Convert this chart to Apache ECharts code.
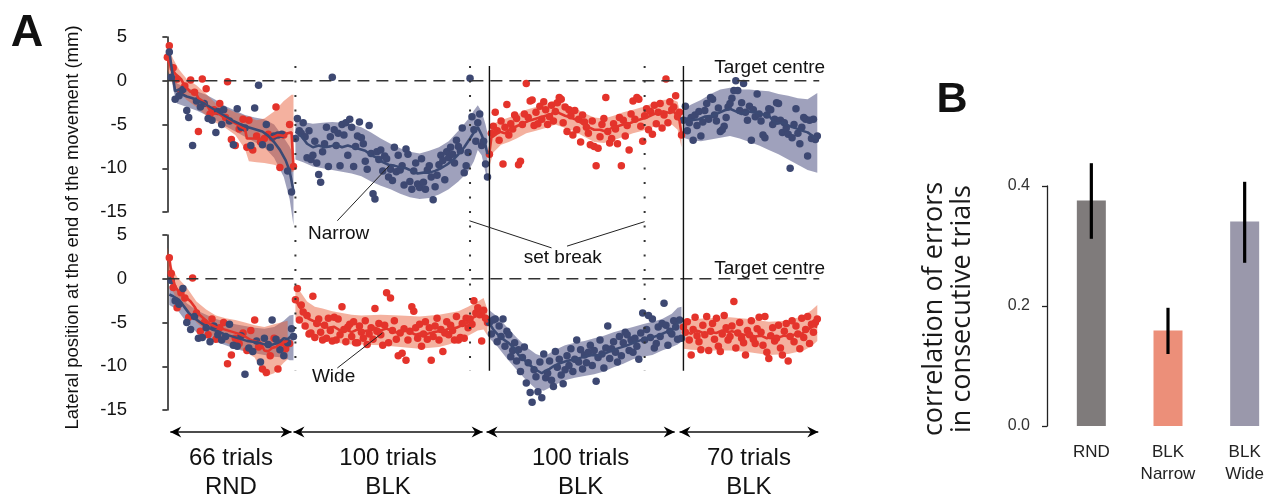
<!DOCTYPE html>
<html><head><meta charset="utf-8">
<script src="https://cdn.jsdelivr.net/npm/echarts@6/dist/echarts.min.js"></script>
<style>html,body{margin:0;padding:0;background:#fff}#c{width:1283px;height:501px}</style>
</head><body><div id="c"></div><script>
// ---------------- DATA ----------------
const yTicksA = [-15, -10, -5, 0, 5];
const segStarts = [0, 66, 166, 266];          // first trial of each block
const setBreaks = [66, 156, 246];               // dotted lines
const blockSwitches = [166, 266];              // solid lines
const segLabels1 = ['66 trials', '100 trials', '100 trials', '70 trials'];
const segLabels2 = ['RND', 'BLK', 'BLK', 'BLK'];

// ---- Top panel (Narrow-first group) ----
const topRndRed = [[1,4.0],[0,2.7],[3,1.5],[5,0.2],[7,-1.2],[9,-0.6],[12,0.1],[14,-1.3],[16,-5.8],[18,0.2],[20,-0.9],[22,-3.8],[24,-3.3],[27,-2.6],[30,-4.2],[31,-0.1],[33,-6.7],[35,-7.4],[37,-5.5],[39,-4.4],[41,-7.6],[42,-4.5],[44,-7.9],[46,-6.3],[48,-7.0],[50,-6.6],[52,-6.1],[54,-6.5],[56,-3.0],[58,-9.9],[60,-6.2],[63,-5.0],[65,-9.8]];
const topRndBlue = [[1,3.3],[2,0.4],[4,-2.1],[6,-1.7],[8,-1.0],[10,-3.4],[11,-4.2],[13,-7.4],[15,-2.3],[17,-3.0],[19,-2.6],[21,-4.3],[23,-4.5],[25,-5.9],[26,-3.5],[28,-5.0],[29,-3.3],[32,-4.6],[34,-7.3],[36,-3.2],[38,-5.3],[40,-5.4],[43,-7.4],[45,-3.1],[47,-0.5],[49,-7.3],[51,-5.0],[53,-7.6],[55,-6.3],[57,-6.2],[59,-6.1],[62,-10.3],[64,-12.7]];
const topS2Blue = [-6.6,-4.3,-5.7,-6.0,-4.8,-6.4,-8.8,-5.7,-9.0,-8.5,
 -6.9,-9.4,-10.7,-11.6,-8.1,-7.2,-5.3,-9.8,-6.4,0.4,
 -5.6,-7.4,-6.0,-9.7,-5.0,-6.2,-4.8,-8.5,-4.4,-5.3,
 -9.8,-7.5,-6.3,-4.7,-6.5,-7.2,-9.2,-10.1,-5.1,-8.3,
 -12.9,-13.5,-8.1,-9.0,-7.9,-10.3,-8.6,-8.9,-11.0,-10.1,
 -11.4,-7.6,-10.4,-8.5,-10.2,-9.7,-11.9,-7.8,-8.4,-11.5,
 -12.4,-10.3,-9.4,-11.8,-12.2,-8.9,-11.6,-12.4,-10.2,-9.7,
 -11.0,-13.6,-12.1,-10.8,-9.6,-8.5,-9.1,-11.3,-8.1,-8.8,
 -7.6,-8.4,-9.4,-6.8,-7.5,-8.0,-5.4,-10.5,-9.7,-8.2,
 0.3,-4.1,-5.6,-6.9,-4.8,-3.8,-7.4,-6.9,-9.5,-11.0];
const topS3Red = [-8.4,-6.0,-5.2,-3.6,-5.7,-6.8,-4.6,-9.5,-5.3,-2.7,
 -6.2,-4.9,-5.5,-3.9,-4.3,-9.6,-9.2,-5.0,-3.8,-0.3,
 -4.2,-2.3,-2.2,-5.1,-3.6,-4.9,-2.9,-4.4,-2.4,-3.3,
 -5.0,-4.1,-2.8,-4.6,-3.5,-2.5,-1.9,-2.1,-4.8,-3.0,
 -5.8,-3.3,-4.0,-6.2,-3.4,-5.6,-4.4,-7.0,-3.9,-4.7,
 -5.3,-6.0,-7.3,-4.6,-7.5,-9.7,-7.7,-6.4,-5.0,-4.3,
 -1.9,-5.8,-7.1,-6.6,-4.9,-5.5,-7.2,-4.2,-9.7,-4.5,
 -6.3,-5.1,-7.9,-3.8,-2.3,-4.4,-1.9,-2.1,-5.2,-6.9,
 -4.0,-3.2,-5.6,-3.5,-6.1,-2.8,-4.9,-3.6,-2.6,-5.4,
 -3.9,0.2,-4.8,-2.4,-3.3,-3.0,-1.7,-4.1,-3.6,-6.2];
const topS4Blue = [-4.5,-2.9,-5.7,-4.8,-4.2,-6.8,-3.9,-5.1,-3.5,-6.3,
 -4.7,-3.4,-2.6,-4.4,-1.9,-2.1,-3.9,-4.6,-3.1,-5.8,
 -5.6,-5.2,-4.2,-3.0,-2.6,-2.0,-1.1,0.0,-1.1,-3.4,
 -2.5,-0.3,-3.6,-4.5,-2.9,-6.8,-3.3,-4.1,-1.5,-3.8,
 -4.6,-6.2,-6.5,-3.9,-3.2,-3.3,-5.0,-4.4,-2.5,-2.6,
 -4.5,-5.9,-4.8,-5.4,-6.1,-10.0,-6.5,-5.0,-3.2,-6.0,
 -7.2,-5.3,-4.2,-4.4,-8.6,-4.5,-6.6,-4.4,-6.7,-6.3];

const topRndBlueLine = [[1,3.3],[3,0.3],[4,-1.2],[6,-1.0],[8,-1.6],[10,-1.8],[13,-2.0],[16,-2.3],[19,-2.6],[22,-3.0],[25,-3.4],[28,-3.8],[31,-4.2],[34,-4.6],[37,-4.9],[40,-5.2],[43,-5.4],[46,-5.6],[49,-5.8],[52,-6.3],[55,-7.0],[58,-7.9],[61,-9.1],[63,-10.3],[65,-12.6]];
const topRndRedLine = [[0,2.5],[2,1.5],[4,0.8],[7,0.2],[9,-0.6],[12,-1.3],[14,-1.1],[16,-2.0],[18,-2.3],[21,-3.0],[23,-3.8],[26,-3.7],[28,-4.0],[30,-4.2],[33,-4.6],[36,-5.0],[38,-5.3],[40,-5.5],[41,-6.6],[44,-6.6],[47,-6.6],[50,-6.7],[52,-6.3],[54,-6.5],[57,-6.2],[60,-6.3],[62,-6.0],[64,-5.9],[65,-9.9]];
const topS2Line = [[66,-5.8],[68,-6.1],[70,-6.6],[72,-7.2],[75,-7.6],[78,-7.4],[81,-7.6],[84,-7.5],[87,-7.3],[90,-7.6],[93,-7.4],[96,-7.6],[99,-7.8],[102,-8.0],[105,-8.5],[108,-8.8],[111,-9.3],[114,-9.6],[117,-9.7],[120,-9.9],[123,-10.0],[126,-10.3],[129,-10.6],[132,-10.5],[135,-10.5],[138,-10.3],[141,-10.0],[144,-9.6],[147,-9.1],[150,-8.4],[153,-7.6],[156,-6.6],[158,-5.9],[160,-5.3],[162,-6.2],[164,-7.4],[165,-8.4]];
const topS3Line = [[166,-8.2],[167,-6.5],[169,-6.2],[171,-5.8],[174,-6.0],[177,-5.5],[180,-5.2],[183,-4.9],[186,-4.6],[189,-4.4],[192,-4.2],[195,-4.0],[198,-3.8],[200,-3.4],[202,-3.7],[205,-4.0],[208,-4.2],[211,-4.5],[214,-4.9],[217,-5.3],[220,-5.6],[223,-5.6],[226,-5.8],[229,-5.4],[232,-5.2],[235,-5.0],[238,-4.9],[241,-4.6],[244,-4.4],[247,-4.2],[250,-3.9],[253,-3.6],[256,-3.5],[259,-3.7],[261,-3.5],[263,-4.1],[264,-4.6],[265,-6.1]];
const topS4Line = [[266,-4.6],[268,-4.3],[270,-4.5],[274,-4.4],[277,-4.1],[281,-4.0],[284,-3.7],[287,-3.4],[290,-3.2],[293,-3.5],[296,-3.8],[299,-3.5],[303,-3.6],[306,-3.8],[310,-4.0],[312,-4.5],[314,-4.9],[317,-4.8],[320,-5.1],[322,-5.3],[325,-5.5],[327,-5.7],[330,-5.9],[332,-6.2],[334,-6.6],[335,-6.5]];

// bands: [trial, lower, upper]
const topRndRedBand = [[0,1.3,4.0],[3,-0.5,2.5],[6,-1.2,1.3],[10,-2.2,0.2],[15,-3.0,-0.5],[20,-4.0,-1.5],[25,-4.8,-2.6],[30,-5.4,-3.1],[35,-6.2,-3.6],[40,-7.8,-4.0],[42,-9.2,-4.2],[46,-9.3,-4.5],[50,-9.4,-4.3],[55,-9.6,-3.5],[60,-10.0,-2.3],[64,-10.4,-1.6],[65,-10.4,-1.6]];
const topRndBlueBand = [[1,2.0,4.0],[3,-1.0,1.2],[5,-2.6,-0.3],[10,-3.0,-0.8],[15,-3.4,-1.2],[20,-3.9,-1.6],[25,-4.5,-2.2],[30,-5.2,-2.9],[35,-5.8,-3.4],[40,-6.4,-3.9],[45,-7.0,-4.2],[50,-7.6,-4.4],[55,-8.8,-5.0],[60,-11.0,-6.5],[63,-13.5,-7.5],[65,-16.5,-8.5]];
const topS2Band = [[66,-9.0,-4.4],[70,-9.3,-4.7],[75,-9.8,-4.9],[80,-10.0,-4.8],[85,-10.2,-4.7],[90,-10.4,-4.8],[95,-10.6,-5.0],[100,-10.9,-5.3],[105,-11.5,-5.9],[110,-12.0,-6.6],[115,-12.4,-7.2],[120,-12.9,-7.7],[125,-13.3,-8.1],[130,-13.5,-8.3],[135,-13.4,-8.0],[140,-13.0,-7.6],[145,-12.4,-6.9],[150,-11.5,-5.7],[155,-10.4,-4.4],[158,-9.2,-3.4],[160,-7.9,-2.8],[162,-8.5,-3.5],[164,-10.5,-5.0],[165,-11.5,-6.0]];
const topS3Band = [[166,-9.8,-6.4],[168,-8.2,-4.9],[172,-7.3,-4.5],[176,-7.0,-4.2],[180,-6.6,-3.9],[185,-6.0,-3.3],[190,-5.7,-3.0],[195,-5.4,-2.7],[200,-5.0,-2.2],[205,-5.4,-2.7],[210,-5.8,-3.1],[215,-6.4,-3.7],[220,-7.0,-4.2],[225,-7.1,-4.3],[230,-6.8,-4.0],[235,-6.4,-3.6],[240,-6.0,-3.3],[245,-5.7,-3.0],[250,-5.3,-2.6],[255,-5.0,-2.2],[260,-5.0,-2.1],[263,-5.6,-2.4],[265,-7.6,-4.4]];
const topS4Band = [[266,-6.5,-3.2],[270,-6.8,-2.7],[275,-6.9,-2.2],[280,-6.7,-1.5],[285,-6.5,-1.0],[290,-6.3,-0.8],[295,-6.6,-1.0],[300,-7.0,-1.0],[305,-7.4,-1.1],[310,-7.9,-1.2],[315,-8.4,-1.5],[320,-9.0,-1.7],[325,-9.6,-2.0],[330,-10.2,-2.1],[335,-10.5,-1.4]];

// ---- Bottom panel (Wide-first group) ----
const botRndRed = [[1,2.4],[2,0.6],[3,-1.0],[5,-3.3],[7,-1.6],[9,-2.2],[11,-4.4],[13,0.1],[15,-3.9],[17,-6.0],[19,-5.0],[21,-6.4],[23,-4.6],[25,-6.9],[27,-5.6],[29,-5.0],[31,-9.7],[33,-8.7],[35,-6.8],[37,-7.4],[39,-6.2],[41,-8.2],[43,-5.9],[45,-4.7],[47,-7.8],[49,-10.3],[51,-10.7],[53,-8.8],[55,-6.8],[57,-10.3],[59,-7.3],[61,-8.0],[63,-7.4]];
const botRndBlue = [[2,-0.2],[4,-2.5],[6,-2.9],[8,-1.1],[10,-5.0],[12,-5.8],[14,-4.3],[16,-6.8],[18,-6.7],[20,-5.6],[22,-7.2],[24,-5.4],[26,-6.4],[28,-7.0],[30,-6.6],[32,-5.2],[34,-7.6],[36,-7.7],[38,-6.5],[40,-10.9],[42,-7.9],[44,-8.3],[46,-7.1],[48,-9.5],[50,-6.8],[52,-7.5],[54,-4.7],[56,-6.9],[58,-8.1],[60,-8.8],[62,-7.3],[64,-5.7],[65,-6.6]];
const botS2Red = [-2.4,-1.1,-4.7,-3.0,-3.8,-5.4,-4.2,-6.3,-6.2,-2.0,
 -6.7,-5.1,-4.6,-6.1,-7.0,-5.3,-6.8,-4.5,-5.9,-7.1,
 -4.4,-7.0,-4.6,-6.4,-3.2,-5.8,-7.2,-5.5,-5.2,-6.6,
 -4.9,-7.3,-7.3,-5.4,-6.1,-6.8,-4.8,-7.5,-6.3,-5.6,
 -6.9,-3.4,-6.0,-5.1,-6.4,-7.6,-5.3,-1.6,-7.3,-2.2,
 -5.9,-4.8,-6.9,-8.8,-6.2,-8.5,-5.7,-9.3,-7.0,-6.0,
 -3.2,-3.7,-5.6,-6.8,-5.2,-7.7,-6.3,-4.9,-6.9,-5.6,
 -9.3,-6.6,-5.4,-4.5,-7.0,-5.8,-8.3,-6.2,-4.9,-6.4,
 -5.3,-5.9,-7.0,-4.3,-7.0,-6.7,-5.1,-6.8,-4.5,-5.6,
 -4.6,-5.2,-2.5,-3.9,-3.3,-4.1,-7.1,-3.6,-4.5,-5.0];
const botS3Blue = [-5.0,-6.3,-4.7,-4.6,-7.2,-5.4,-6.6,-4.6,-7.7,-6.0,
 -6.4,-8.9,-8.2,-7.3,-9.4,-8.1,-10.6,-9.0,-7.8,-11.9,
 -9.6,-13.0,-14.1,-10.4,-11.2,-12.9,-9.5,-13.6,-8.6,-11.3,
 -10.8,-9.4,-11.6,-12.3,-8.3,-10.1,-9.2,-11.0,-12.0,-10.4,
 -8.8,-9.9,-8.0,-10.6,-9.2,-7.0,-9.5,-8.1,-10.3,-8.7,
 -9.6,-8.4,-7.6,-9.9,-8.2,-11.7,-9.0,-7.0,-8.6,-10.2,
 -7.9,-5.4,-9.1,-8.0,-7.2,-8.4,-9.5,-6.6,-8.8,-7.3,
 -6.1,-6.4,-8.2,-7.0,-8.4,-6.8,-7.7,-9.2,-6.2,-3.9,
 -7.0,-5.8,-4.2,-6.7,-4.6,-7.9,-7.4,-5.5,-6.6,-5.1,
 -2.8,-5.3,-7.6,-6.0,-6.3,-4.8,-5.5,-6.9,-4.7,-6.8];
const botS4Red = [-5.5,-6.1,-4.9,-7.0,-8.7,-5.8,-4.4,-6.5,-7.2,-8.1,
 -5.3,-6.4,-4.3,-8.2,-6.0,-5.1,-6.9,-4.5,-7.7,-8.3,
 -6.3,-4.2,-5.6,-7.0,-6.6,-5.4,-2.6,-7.9,-6.2,-5.0,
 -6.8,-7.3,-8.7,-5.9,-6.4,-4.8,-6.9,-7.4,-5.7,-4.4,
 -6.1,-7.6,-4.3,-8.4,-9.1,-6.5,-5.6,-7.1,-6.8,-5.3,
 -7.9,-8.7,-6.0,-5.1,-9.4,-6.6,-4.8,-7.2,-5.4,-6.3,
 -8.0,-4.5,-6.7,-5.8,-4.3,-7.4,-5.2,-6.1,-5.0,-4.6];

const botRndRedLine = [[1,2.4],[2,0.7],[4,-0.9],[7,-1.8],[9,-2.0],[12,-2.6],[14,-3.2],[16,-4.0],[19,-4.6],[22,-5.2],[25,-5.5],[28,-5.7],[31,-5.9],[34,-6.1],[37,-6.3],[40,-6.6],[43,-7.0],[46,-7.2],[48,-7.3],[50,-8.2],[52,-8.3],[54,-7.9],[56,-7.8],[58,-7.4],[61,-7.2],[62,-7.0]];
const botRndBlueLine = [[1,-1.8],[3,-2.0],[6,-2.4],[9,-3.3],[11,-3.9],[14,-4.5],[17,-5.0],[20,-5.4],[23,-5.8],[26,-6.0],[29,-6.3],[32,-6.5],[35,-6.7],[38,-6.9],[41,-7.1],[44,-7.2],[47,-7.3],[50,-7.5],[53,-7.6],[56,-7.4],[58,-7.2],[60,-6.8],[62,-6.9],[64,-6.5],[65,-6.3]];
const botS2Line = [[66,-2.4],[67,-2.6],[69,-3.5],[71,-4.3],[73,-4.6],[75,-4.8],[78,-5.0],[80,-5.4],[83,-5.6],[86,-5.5],[89,-5.9],[92,-5.8],[95,-6.1],[98,-5.8],[101,-6.0],[104,-5.9],[107,-5.6],[110,-5.9],[113,-5.7],[116,-6.0],[119,-6.2],[122,-5.9],[125,-6.1],[128,-6.4],[131,-6.2],[134,-6.3],[137,-6.1],[140,-6.0],[143,-5.9],[146,-5.6],[149,-5.6],[152,-5.3],[155,-5.0],[157,-4.5],[159,-4.3],[161,-3.8],[162,-3.5],[164,-4.5],[165,-5.0]];
const botS3Line = [[166,-5.1],[168,-5.8],[170,-6.3],[173,-6.9],[176,-7.35],[179,-8.0],[181,-8.7],[184,-9.3],[187,-9.9],[190,-10.4],[193,-10.8],[195,-10.5],[197,-10.3],[199,-10.0],[202,-9.7],[205,-9.45],[208,-9.3],[212,-9.1],[215,-8.9],[219,-8.7],[222,-8.8],[226,-8.5],[229,-8.2],[233,-7.9],[236,-7.7],[240,-7.35],[243,-7.1],[247,-6.8],[250,-6.7],[254,-6.4],[257,-6.1],[260,-5.85],[262,-5.4],[264,-4.7],[265,-5.0]];
const botS4Line = [[266,-6.4],[268,-6.1],[270,-6.3],[272,-5.9],[274,-6.0],[277,-6.3],[280,-6.1],[283,-6.2],[286,-5.9],[289,-6.1],[291,-6.0],[294,-6.2],[297,-6.4],[300,-6.4],[303,-6.6],[306,-6.5],[309,-6.8],[312,-6.6],[315,-6.7],[318,-6.5],[321,-6.6],[324,-6.3],[326,-6.4],[329,-6.0],[331,-5.7],[333,-5.4],[335,-5.5]];

const botRndRedBand = [[0,0.8,3.6],[2,-1.0,1.5],[5,-2.5,0.2],[10,-3.4,-1.0],[15,-5.0,-2.6],[20,-6.0,-3.5],[25,-6.8,-4.2],[30,-7.3,-4.5],[35,-7.7,-4.7],[40,-8.3,-5.0],[45,-9.0,-5.3],[50,-11.2,-5.5],[55,-10.8,-5.2],[60,-9.6,-4.9],[62,-9.2,-4.8]];
const botRndBlueBand = [[1,-3.0,-0.8],[5,-3.5,-1.2],[10,-5.0,-2.8],[15,-6.1,-3.6],[20,-6.8,-4.1],[25,-7.2,-4.6],[30,-7.6,-4.9],[35,-8.0,-5.2],[40,-8.3,-5.4],[45,-8.5,-5.6],[50,-8.7,-5.7],[55,-8.9,-5.5],[60,-9.0,-4.8],[63,-9.3,-4.2],[65,-9.3,-4.1]];
const botS2Band = [[66,-4.5,-0.5],[68,-4.8,-1.3],[72,-6.0,-2.6],[76,-6.6,-3.2],[80,-6.9,-3.4],[85,-7.2,-3.7],[90,-7.4,-3.9],[95,-7.5,-4.1],[100,-7.5,-4.2],[110,-7.6,-4.1],[120,-7.8,-4.2],[130,-8.0,-4.3],[140,-7.8,-4.1],[145,-7.5,-3.9],[150,-7.1,-3.7],[155,-6.5,-3.2],[160,-5.9,-2.6],[163,-5.8,-2.2],[165,-6.5,-3.5]];
const botS3Band = [[166,-6.8,-3.6],[170,-7.7,-4.3],[175,-9.1,-5.5],[180,-10.4,-6.7],[185,-11.6,-7.8],[190,-12.6,-8.6],[194,-12.8,-8.9],[200,-12.1,-8.1],[205,-11.6,-7.6],[210,-11.3,-7.3],[215,-11.1,-7.1],[220,-10.9,-6.8],[225,-10.6,-6.5],[230,-10.1,-6.1],[235,-9.7,-5.8],[240,-9.2,-5.5],[245,-8.9,-5.2],[250,-8.7,-4.9],[255,-8.2,-4.6],[260,-7.8,-4.0],[263,-7.5,-3.3],[265,-7.2,-3.2]];
const botS4Band = [[266,-8.0,-4.8],[270,-8.1,-4.6],[280,-8.2,-4.5],[290,-8.2,-4.4],[300,-8.4,-4.6],[310,-8.7,-4.9],[320,-8.6,-4.8],[328,-8.2,-4.2],[332,-7.7,-3.6],[335,-7.1,-3.0]];

// ---- Panel B ----
const bCategories = ['RND', 'BLK\nNarrow', 'BLK\nWide'];
const bValues = [0.376, 0.159, 0.341];
const bErrLow = [0.312, 0.120, 0.272];
const bErrHigh = [0.438, 0.197, 0.407];
const bTicks = [0.0, 0.2, 0.4];

// ---------------- STYLE ----------------
const RED = '#e4332b', BLUE = '#3d4872';
const RED_LINE = '#e3352c', BLUE_LINE = '#3b4a74';
const RED_BAND = 'rgba(231,91,55,0.48)', BLUE_BAND = 'rgba(71,75,126,0.52)';
const BAR_COLORS = ['#7f7b7b', '#ec8f79', '#9a98ab'];
const FONT = 'Liberation Sans, Arial, sans-serif';

const chart = echarts.init(document.getElementById('c'), null, {renderer: 'canvas'});

const withTrials = (start, vals) => vals.map((v, i) => [start + i, v]);

function band(data, color, g) {
  return {type: 'custom', xAxisIndex: g, yAxisIndex: g, clip: false, silent: true, z: 1,
    data: [[data[0][0], data[0][1]]],
    renderItem: (p, api) => {
      const up = data.map(b => api.coord([b[0], b[2]]));
      const lo = data.slice().reverse().map(b => api.coord([b[0], b[1]]));
      return {type: 'polygon', shape: {points: up.concat(lo)}, style: {fill: color}};
    }};
}
function dots(data, color, g) {
  return {type: 'scatter', xAxisIndex: g, yAxisIndex: g, data, symbolSize: 7.5, z: 3, silent: true,
    itemStyle: {color, opacity: 1}};
}
function mline(data, color, g) {
  return {type: 'line', xAxisIndex: g, yAxisIndex: g, data, showSymbol: false, z: 4, silent: true,
    lineStyle: {color, width: 2.6}, itemStyle: {color}};
}

const yAxisA = (g) => ({gridIndex: g, type: 'value', min: -15, max: 5, interval: 5,
  axisLine: {show: true, lineStyle: {color: '#1a1a1a', width: 1.5}},
  axisTick: {show: true, length: 5, lineStyle: {color: '#1a1a1a', width: 1.5}},
  axisLabel: {fontSize: 18.5, color: '#111', margin: 20, fontFamily: FONT,
    customValues: yTicksA},
  splitLine: {show: false}});
const xAxisA = (g) => ({gridIndex: g, type: 'value', min: -10.5, max: 340, show: false});

const option = {
  backgroundColor: '#ffffff',
  animation: false,
  grid: [
    {left: 147, top: 37, width: 680, height: 175},
    {left: 147, top: 235, width: 680, height: 175},
    {left: 1053, top: 186, width: 243, height: 240}
  ],
  xAxis: [xAxisA(0), xAxisA(1),
    {gridIndex: 2, type: 'category', data: bCategories,
      axisLine: {show: false}, axisTick: {show: false},
      axisLabel: {fontSize: 17, lineHeight: 22, color: '#222', margin: 15, fontFamily: FONT}}],
  yAxis: [yAxisA(0), yAxisA(1),
    {gridIndex: 2, type: 'value', min: 0, max: 0.4, interval: 0.2, offset: 6,
      axisLine: {show: true, lineStyle: {color: '#222', width: 1.3}},
      axisTick: {show: true, length: 5, lineStyle: {color: '#222', width: 1.3}},
      axisLabel: {fontSize: 16, color: '#333', margin: 17, fontFamily: FONT, formatter: v => v.toFixed(1)},
      splitLine: {show: false}}],
  series: [
    band(topRndBlueBand, BLUE_BAND, 0), band(topRndRedBand, RED_BAND, 0),
    band(topS2Band, BLUE_BAND, 0), band(topS3Band, RED_BAND, 0), band(topS4Band, BLUE_BAND, 0),
    band(botRndBlueBand, BLUE_BAND, 1), band(botRndRedBand, RED_BAND, 1),
    band(botS2Band, RED_BAND, 1), band(botS3Band, BLUE_BAND, 1), band(botS4Band, RED_BAND, 1),
    dots(topRndRed.concat(withTrials(segStarts[2], topS3Red)), RED, 0),
    dots(topRndBlue.concat(withTrials(segStarts[1], topS2Blue), withTrials(segStarts[3], topS4Blue)), BLUE, 0),
    dots(botRndRed.concat(withTrials(segStarts[1], botS2Red), withTrials(segStarts[3], botS4Red)), RED, 1),
    dots(botRndBlue.concat(withTrials(segStarts[2], botS3Blue)), BLUE, 1),
    mline(topRndRedLine, RED_LINE, 0), mline(topRndBlueLine, BLUE_LINE, 0),
    mline(topS2Line, BLUE_LINE, 0), mline(topS3Line, RED_LINE, 0), mline(topS4Line, BLUE_LINE, 0),
    mline(botRndRedLine, RED_LINE, 1), mline(botRndBlueLine, BLUE_LINE, 1),
    mline(botS2Line, RED_LINE, 1), mline(botS3Line, BLUE_LINE, 1), mline(botS4Line, RED_LINE, 1),
    {type: 'bar', xAxisIndex: 2, yAxisIndex: 2, barWidth: 29, silent: true,
      data: bValues.map((v, i) => ({value: v, itemStyle: {color: BAR_COLORS[i]}}))},
    {type: 'custom', xAxisIndex: 2, yAxisIndex: 2, silent: true, z: 5,
      data: bValues.map((v, i) => [i, bErrLow[i], bErrHigh[i]]),
      renderItem: (p, api) => {
        const a = api.coord([api.value(0), api.value(1)]);
        const b = api.coord([api.value(0), api.value(2)]);
        return {type: 'line', shape: {x1: a[0], y1: a[1], x2: b[0], y2: b[1]},
          style: {stroke: '#000', lineWidth: 3.2}};
      }}
  ]
};
chart.setOption(option);

// ---------------- ANNOTATIONS (positioned through the axes) ----------------
const P = (g, x, y) => chart.convertToPixel({gridIndex: g}, [x, y]);
const g = [];
const ln = (a, b, style) => g.push({type: 'line', silent: true, z: 10,
  shape: {x1: a[0], y1: a[1], x2: b[0], y2: b[1]}, style: Object.assign({stroke: '#222', lineWidth: 1.2}, style)});
const txt = (p, text, opt) => g.push({type: 'text', silent: true, z: 11, x: p[0], y: p[1], rotation: opt.rotation || 0,
  style: {text, fill: opt.fill || '#111', fontSize: opt.fontSize || 19, fontFamily: opt.fontFamily || FONT,
    fontWeight: opt.fontWeight || 'normal', align: opt.align || 'left', verticalAlign: opt.va || 'middle',
    lineHeight: opt.lineHeight}});

// target centre dashed lines
[0, 1].forEach(k => ln(P(k, 0, 0), P(k, 336, 0), {stroke: '#333', lineWidth: 1.5, lineDash: [12, 7]}));
txt([P(0, 339, 0)[0], P(0, 339, 0)[1] - 13], 'Target centre', {align: 'right'});
txt([P(1, 339, 0)[0], P(1, 339, 0)[1] - 10], 'Target centre', {align: 'right'});

// vertical lines spanning both panels
setBreaks.forEach(t => ln(P(0, t, 1.7), P(1, t, -10.5), {stroke: '#333', lineWidth: 2, lineDash: [2, 12.5]}));
blockSwitches.forEach(t => ln(P(0, t, 1.7), P(1, t, -10.5), {stroke: '#111', lineWidth: 1.4}));

// pointer lines and labels
ln(P(0, 87.6, -16.0), P(0, 114.4, -9.7), {lineWidth: 1});
txt(P(0, 72.5, -17.5), 'Narrow', {});
ln(P(0, 155.7, -16.0), P(0, 198, -19.1), {lineWidth: 1});
ln(P(0, 206, -18.9), P(0, 246, -16.1), {lineWidth: 1});
txt(P(0, 203.8, -20.2), 'set break', {align: 'center'});
ln(P(1, 87.6, -10.2), P(1, 110.8, -6.2), {lineWidth: 1});
txt(P(1, 74.5, -11.2), 'Wide', {});

// trial-count arrows under panel A
const arrowSegs = [[1.5, 64], [65, 162.5], [164.5, 261.5], [264, 335.5]];
const arrowY = -17.5;
function head(tip, dir) {
  const L = 11, W = 5.5, N = 3.5;
  g.push({type: 'polygon', silent: true, z: 11, shape: {points: [
    [tip[0], tip[1]], [tip[0] - dir * L, tip[1] - W], [tip[0] - dir * (L - N), tip[1]], [tip[0] - dir * L, tip[1] + W]]},
    style: {fill: '#000'}});
}
arrowSegs.forEach((s, i) => {
  const a = P(1, s[0], arrowY), b = P(1, s[1], arrowY);
  ln(a, b, {stroke: '#111', lineWidth: 1.5});
  head(a, -1); head(b, 1);
  const cx = (a[0] + b[0]) / 2;
  txt([cx, a[1] + 26], segLabels1[i], {align: 'center', fontSize: 24});
  txt([cx, a[1] + 55], segLabels2[i], {align: 'center', fontSize: 24});
});

// axis titles and panel letters
const mid = (P(0, 0, 5)[1] + P(1, 0, -15)[1]) / 2;
txt([73, mid + 4], 'Lateral position at the end of the movement (mm)', {align: 'center', fontSize: 18.5, rotation: Math.PI / 2});
txt([27, 34], 'A', {align: 'center', fontSize: 45, fontWeight: 'bold', fontFamily: 'Liberation Sans, Arial'});
txt([952, 100], 'B', {align: 'center', fontSize: 43, fontWeight: 'bold', fontFamily: 'Liberation Sans, Arial'});
txt([948, 309], 'correlation of errors\nin consecutive trials',
  {align: 'center', fontSize: 27, fontFamily: 'Open Sans', rotation: Math.PI / 2, lineHeight: 28, fill: '#1a1a1a'});

chart.setOption({graphic: {elements: g}});
</script></body></html>
